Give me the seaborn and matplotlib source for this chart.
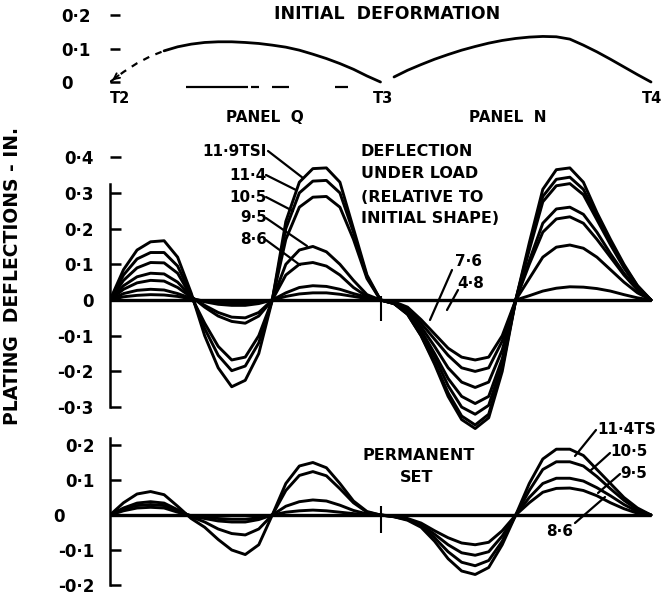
import numpy as np
import pandas as pd
import seaborn as sns
import matplotlib.pyplot as plt
from matplotlib.lines import Line2D
from matplotlib.transforms import ScaledTranslation

sns.set_style("white")
plt.rcParams['font.family'] = ['DejaVu Sans']
plt.rcParams['font.weight'] = 'bold'
plt.rcParams['text.color'] = 'black'
plt.rcParams['ytick.color'] = 'black'
plt.rcParams['ytick.left'] = True
plt.rcParams['lines.solid_joinstyle'] = 'round'
plt.rcParams['lines.solid_capstyle'] = 'round'

W, H = 667, 597

# stations along the plating: T2 = 0, T3 = 1, T4 = 2
x = [0.0, 0.05, 0.1, 0.15, 0.2, 0.25, 0.3, 0.35, 0.4, 0.45, 0.5, 0.55, 0.6, 0.65, 0.7,
     0.75, 0.8, 0.85, 0.9, 0.95, 1.0, 1.05, 1.1, 1.15, 1.2, 1.25, 1.3, 1.35, 1.4, 1.45,
     1.5, 1.55, 1.6, 1.65, 1.7, 1.75, 1.8, 1.85, 1.9, 1.95, 2.0]

# initial deformation (panel Q dashed near T2, panel N starts just past T3)
init_q = [0, 0.03, 0.056, 0.077, 0.093, 0.105, 0.113, 0.118, 0.12, 0.12, 0.118, 0.115,
          0.11, 0.104, 0.095, 0.083, 0.07, 0.055, 0.038, 0.018, 0.0]
init_n = [0.015, 0.035, 0.052, 0.068, 0.082, 0.095, 0.106, 0.116, 0.124, 0.13, 0.134,
          0.136, 0.135, 0.128, 0.11, 0.09, 0.068, 0.045, 0.022, 0.0]

# deflection under load (relative to initial shape), tons/sq.in.
load_loads = ['11·9', '11·4', '10·5', '9·5', '8·6', '7·6', '4·8']
load_119 = [0, 0.085, 0.14, 0.163, 0.166, 0.12, 0.02, -0.1, -0.19, -0.243, -0.225, -0.15,
            0.0, 0.22, 0.33, 0.368, 0.37, 0.33, 0.2, 0.07, 0.0,
            -0.01, -0.04, -0.1, -0.18, -0.27, -0.335, -0.36, -0.33, -0.2, 0.0,
            0.16, 0.31, 0.365, 0.37, 0.33, 0.245, 0.17, 0.1, 0.04, 0.0]
load_114 = [0, 0.07, 0.115, 0.133, 0.133, 0.095, 0.015, -0.08, -0.155, -0.198, -0.185, -0.12,
            0.0, 0.2, 0.3, 0.333, 0.335, 0.3, 0.19, 0.065, 0.0,
            -0.01, -0.04, -0.1, -0.175, -0.26, -0.325, -0.35, -0.32, -0.19, 0.0,
            0.15, 0.29, 0.338, 0.344, 0.31, 0.235, 0.16, 0.095, 0.04, 0.0]
load_105 = [0, 0.055, 0.09, 0.105, 0.104, 0.075, 0.01, -0.065, -0.13, -0.168, -0.16, -0.1,
            0.0, 0.17, 0.26, 0.288, 0.29, 0.26, 0.17, 0.06, 0.0,
            -0.01, -0.035, -0.09, -0.16, -0.24, -0.3, -0.32, -0.295, -0.18, 0.0,
            0.14, 0.275, 0.32, 0.326, 0.295, 0.225, 0.155, 0.09, 0.035, 0.0]
load_95 = [0, 0.04, 0.065, 0.075, 0.073, 0.05, 0.01, -0.02, -0.045, -0.06, -0.065, -0.045,
           0.0, 0.1, 0.14, 0.15, 0.135, 0.1, 0.055, 0.015, 0.0,
           -0.01, -0.035, -0.085, -0.15, -0.22, -0.27, -0.29, -0.27, -0.165, 0.0,
           0.11, 0.215, 0.255, 0.26, 0.24, 0.19, 0.13, 0.075, 0.03, 0.0]
load_86 = [0, 0.03, 0.048, 0.055, 0.053, 0.035, 0.008, -0.015, -0.035, -0.048, -0.05, -0.035,
           0.0, 0.07, 0.1, 0.105, 0.095, 0.07, 0.035, 0.01, 0.0,
           -0.008, -0.03, -0.075, -0.13, -0.19, -0.23, -0.245, -0.23, -0.14, 0.0,
           0.1, 0.19, 0.227, 0.233, 0.215, 0.17, 0.12, 0.07, 0.028, 0.0]
load_76 = [0, 0.018, 0.027, 0.03, 0.028, 0.018, 0.005, -0.005, -0.012, -0.015, -0.015, -0.01,
           0.0, 0.02, 0.035, 0.04, 0.038, 0.03, 0.018, 0.008, 0.0,
           -0.008, -0.025, -0.065, -0.11, -0.155, -0.19, -0.2, -0.19, -0.115, 0.0,
           0.06, 0.12, 0.148, 0.154, 0.145, 0.12, 0.085, 0.05, 0.02, 0.0]
load_48 = [0, 0.009, 0.013, 0.015, 0.014, 0.01, 0.003, -0.003, -0.007, -0.009, -0.009, -0.006,
           0.0, 0.01, 0.017, 0.02, 0.02, 0.016, 0.01, 0.004, 0.0,
           -0.005, -0.02, -0.055, -0.095, -0.135, -0.16, -0.168, -0.16, -0.1, 0.0,
           0.012, 0.025, 0.033, 0.037, 0.036, 0.032, 0.025, 0.015, 0.006, 0.0]

# permanent set
set_loads = ['11·4', '10·5', '9·5', '8·6']
set_114 = [0, 0.035, 0.06, 0.067, 0.058, 0.025, -0.01, -0.035, -0.07, -0.1, -0.113, -0.085,
           0.0, 0.09, 0.14, 0.15, 0.135, 0.09, 0.04, 0.01, 0.0,
           -0.005, -0.015, -0.035, -0.075, -0.125, -0.16, -0.17, -0.15, -0.085, 0.0,
           0.09, 0.16, 0.188, 0.188, 0.17, 0.13, 0.09, 0.05, 0.02, 0.0]
set_105 = [0, 0.02, 0.034, 0.038, 0.034, 0.015, -0.005, -0.02, -0.04, -0.053, -0.057, -0.04,
           0.0, 0.07, 0.113, 0.124, 0.112, 0.075, 0.035, 0.008, 0.0,
           -0.005, -0.013, -0.03, -0.065, -0.105, -0.135, -0.145, -0.13, -0.075, 0.0,
           0.07, 0.13, 0.152, 0.152, 0.14, 0.11, 0.075, 0.042, 0.015, 0.0]
set_95 = [0, 0.018, 0.027, 0.03, 0.027, 0.012, -0.003, -0.01, -0.017, -0.02, -0.02, -0.013,
          0.0, 0.025, 0.038, 0.043, 0.04, 0.028, 0.013, 0.003, 0.0,
          -0.004, -0.012, -0.027, -0.055, -0.085, -0.108, -0.115, -0.105, -0.06, 0.0,
          0.05, 0.09, 0.105, 0.105, 0.097, 0.078, 0.055, 0.03, 0.01, 0.0]
set_86 = [0, 0.012, 0.02, 0.022, 0.02, 0.008, -0.002, -0.006, -0.01, -0.012, -0.012, -0.008,
          0.0, 0.008, 0.012, 0.014, 0.012, 0.008, 0.004, 0.001, 0.0,
          -0.003, -0.01, -0.023, -0.045, -0.065, -0.08, -0.085, -0.078, -0.045, 0.0,
          0.035, 0.065, 0.076, 0.077, 0.07, 0.055, 0.035, 0.018, 0.005, 0.0]

top_ticks = [0, 0.1, 0.2]
top_labels = ['0', '0·1', '0·2']
mid_ticks = [-0.3, -0.2, -0.1, 0, 0.1, 0.2, 0.3, 0.4]
mid_labels = ['-0·3', '-0·2', '-0·1', '0', '0·1', '0·2', '0·3', '0·4']
bot_ticks = [-0.2, -0.1, 0, 0.1, 0.2]
bot_labels = ['-0·2', '-0·1', '0', '0·1', '0·2']
stations = ['T2', 'T3', 'T4']

def long_df(curves, names):
    rows = []
    for name, ys in zip(names, curves):
        for xi, yi in zip(x, ys):
            rows.append((xi, yi, name))
    return pd.DataFrame(rows, columns=['x', 'y', 'load'])

df_load = long_df([load_119, load_114, load_105, load_95, load_86, load_76, load_48], load_loads)
df_set = long_df([set_114, set_105, set_95, set_86], set_loads)

fig = plt.figure(figsize=(W / 100, H / 100), dpi=100)

# axes start at T2 (pixel 110); 270.5 px per station interval
def make_axes(top, bottom, zero_py, scale):
    ax = fig.add_axes([110 / W, 1 - bottom / H, 550 / W, (bottom - top) / H])
    ax.set_xlim(0, 550 / 270.5)
    ax.set_ylim((zero_py - bottom) / scale, (zero_py - top) / scale)
    ax.patch.set_alpha(0)
    ax.set_xticks([])
    for s in ['top', 'right', 'bottom']:
        ax.spines[s].set_visible(False)
    ax.spines['left'].set_linewidth(1.8)
    ax.spines['left'].set_color('black')
    return ax

def ftext(px, py, s, **kw):
    kw.setdefault('fontsize', 11)
    kw.setdefault('fontweight', 'bold')
    fig.text(px / W, 1 - py / H, s, **kw)

def fline(x1, y1, x2, y2):
    fig.add_artist(Line2D([x1 / W, x2 / W], [1 - y1 / H, 1 - y2 / H], color='black', lw=1.6))

# ---- initial deformation
ax0 = make_axes(0, 92, 82, 335)
ax0.spines['left'].set_visible(False)
dq = pd.DataFrame({'x': x[:21], 'y': init_q})
sns.lineplot(data=dq[dq.x <= 0.2], x='x', y='y', ax=ax0, color='black', lw=1.6,
             linestyle=(0, (3, 3)))
sns.lineplot(data=dq[dq.x >= 0.2], x='x', y='y', ax=ax0, color='black', lw=2.0)
sns.lineplot(x=x[21:], y=init_n, ax=ax0, color='black', lw=2.0)
ax0.hlines([-0.015] * 4, [0.28, 0.52, 0.6, 0.83], [0.51, 0.55, 0.66, 0.88], color='black', lw=1.6)
ax0.annotate('', xy=(0.0, 0.0), xytext=(0.04, 0.025),
             arrowprops=dict(arrowstyle='->', color='black', lw=1.4))
ax0.set_yticks(top_ticks)
ax0.set_yticklabels(top_labels, fontsize=12, fontweight='bold', ha='left')
ax0.tick_params(axis='y', left=True, direction='in', length=7, width=1.8, pad=35, colors='black')
ax0.set_xlabel('')
ax0.set_ylabel('')

# ---- deflection under load
ax1 = make_axes(140, 440, 300, 357)
sns.lineplot(data=df_load, x='x', y='y', units='load', estimator=None, sort=False,
             color='black', lw=2.1, ax=ax1)
ax1.hlines(0, 0, 2, color='black', lw=2.4)
ax1.vlines(1.0, -0.06, 0.01, color='black', lw=1.5)
ax1.spines['left'].set_bounds(-0.3, 0.325)
ax1.set_yticks(mid_ticks)
ax1.set_yticklabels(mid_labels, fontsize=12, fontweight='bold')
ax1.tick_params(axis='y', left=True, direction='in', length=8, width=1.8, pad=12, colors='black')
ax1.set_xlabel('')
ax1.set_ylabel('')

# ---- permanent set
ax2 = make_axes(430, 597, 515, 350)
sns.lineplot(data=df_set, x='x', y='y', units='load', estimator=None, sort=False,
             color='black', lw=2.1, ax=ax2)
ax2.hlines(0, 0, 2, color='black', lw=2.4)
ax2.vlines(1.0, -0.05, 0.025, color='black', lw=1.5)
ax2.spines['left'].set_bounds(-0.2, 0.22)
ax2.set_yticks(bot_ticks)
ax2.set_yticklabels(bot_labels, fontsize=12, fontweight='bold')
ax2.tick_params(axis='y', left=True, direction='in', length=8, width=1.8, pad=11, colors='black')
ax2.set_xlabel('')
ax2.set_ylabel('')
for lab in ax2.get_yticklabels():
    if lab.get_text() == '0':
        lab.set_transform(lab.get_transform() + ScaledTranslation(-0.30, 0, fig.dpi_scale_trans))

# ---- texts
ftext(387, 14, 'INITIAL  DEFORMATION', ha='center', va='center', fontsize=12.5)
for sx, name in zip([120, 383, 652], stations):
    ftext(sx, 99, name, ha='center', va='center', fontsize=10.5)
ftext(265, 117, 'PANEL  Q', ha='center', va='center')
ftext(508, 117, 'PANEL  N', ha='center', va='center')
fig.text(13 / W, 1 - 276 / H, 'PLATING  DEFLECTIONS - IN.', rotation=90,
         ha='center', va='center', fontsize=13.5, fontweight='bold')

for lbl, py in zip(['11·9TSI', '11·4', '10·5', '9·5', '8·6'], [151, 175, 197, 218, 240]):
    ftext(267, py, lbl, ha='right', va='center')
fline(268, 151, 303, 178)
fline(266, 175, 296, 190)
fline(266, 197, 293, 211)
fline(266, 218, 307, 246)
fline(266, 240, 300, 265)

for line, py in zip(['DEFLECTION', 'UNDER LOAD', '(RELATIVE TO', 'INITIAL SHAPE)'],
                    [151, 174, 197, 219]):
    ftext(361, py, line, ha='left', va='center', fontsize=11.5)
ftext(469, 261, '7·6', ha='center', va='center')
ftext(471, 283, '4·8', ha='center', va='center')
fline(452, 270, 430, 320)
fline(458, 290, 447, 310)

ftext(362, 455, 'PERMANENT', ha='left', va='center', fontsize=11.5)
ftext(417, 477, 'SET', ha='center', va='center', fontsize=11.5)
ftext(597, 430, '11·4TS', ha='left', va='center')
ftext(610, 452, '10·5', ha='left', va='center')
ftext(620, 474, '9·5', ha='left', va='center')
ftext(560, 531, '8·6', ha='center', va='center')
fline(596, 430, 575, 456)
fline(610, 453, 590, 471)
fline(620, 474, 598, 493)
fline(575, 523, 605, 497)

fig.savefig('out.png', dpi=100)
